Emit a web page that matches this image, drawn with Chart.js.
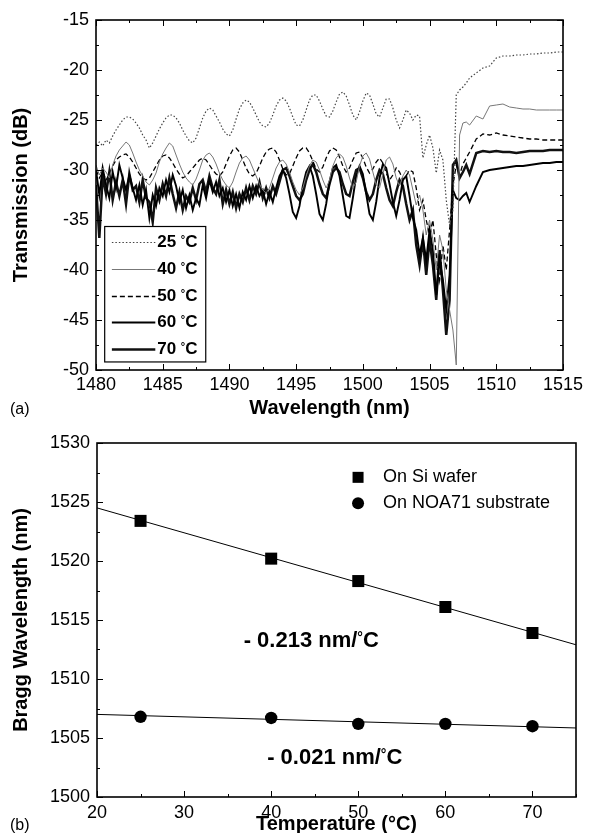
<!DOCTYPE html>
<html><head><meta charset="utf-8">
<script src="https://cdn.jsdelivr.net/npm/chart.js@4.4.1/dist/chart.umd.min.js"></script>
<style>
html,body{margin:0;padding:0;background:#fff;width:589px;height:833px;overflow:hidden;position:relative}
#ca{position:absolute;left:0;top:0}
#cb{position:absolute;left:0;top:420px}
.lab{position:absolute;font:16px "Liberation Sans",Arial,sans-serif;color:#000;line-height:18px}
</style></head><body>
<canvas id="ca" width="589" height="420"></canvas>
<canvas id="cb" width="589" height="420"></canvas>
<div class="lab" style="left:10px;top:400px">(a)</div>
<div class="lab" style="left:10px;top:816px">(b)</div>
<script>
const FAM = '"Liberation Sans", Arial, sans-serif';

// ---------- (a) transmission spectra ----------
const temps = [25, 40, 50, 60, 70];
const wavelength = [
1480,1480.25,1480.5,1480.75,1481,1481.25,1481.5,1481.75,1482,1482.25,1482.5,1482.75,
1483,1483.25,1483.5,1483.75,1484,1484.25,1484.5,1484.75,1485,1485.25,1485.5,1485.75,
1486,1486.25,1486.5,1486.75,1487,1487.25,1487.5,1487.75,1488,1488.25,1488.5,1488.75,
1489,1489.25,1489.5,1489.75,1490,1490.25,1490.5,1490.75,1491,1491.25,1491.5,1491.75,
1492,1492.25,1492.5,1492.75,1493,1493.25,1493.5,1493.75,1494,1494.25,1494.5,1494.75,
1495,1495.25,1495.5,1495.75,1496,1496.25,1496.5,1496.75,1497,1497.25,1497.5,1497.75,
1498,1498.25,1498.5,1498.75,1499,1499.25,1499.5,1499.75,1500,1500.25,1500.5,1500.75,
1501,1501.25,1501.5,1501.75,1502,1502.25,1502.5,1502.75,1503,1503.25,1503.5,1503.75,
1504,1504.25,1504.5,1504.75,1505,1505.25,1505.5,1505.75,1506,1506.25,1506.5,1506.75,
1507,1507.25,1507.5,1507.75,1508,
1508.5,1509,1509.5,1510,1510.5,1511,1511.5,1512,1512.5,1513,1513.5,1514,1514.5,1515];

const t25 = [
-27.5,-27.2,-27.6,-27.0, -27.3,-26.6,-26.0,-25.5, -25.0,-24.7,-24.7,-24.9,
-25.3,-25.8,-26.5,-27.0, -27.8,-27.3,-26.6,-25.9, -25.3,-24.8,-24.5,-24.5,
-24.8,-25.3,-26.0,-26.6, -27.1,-27.3,-26.8,-25.8, -24.8,-24.1,-23.8,-24.0,
-24.6,-25.2,-25.9,-26.4, -26.6,-26.0,-24.9,-23.9, -23.3,-23.0,-23.2,-23.8,
-24.5,-25.2,-25.6,-25.7, -25.3,-24.5,-23.6,-23.0, -22.8,-23.1,-23.8,-24.7,
-25.5,-25.6,-25.0,-24.0, -23.0,-22.5,-22.5,-23.1, -23.9,-24.6,-24.7,-24.1,
-23.2,-22.4,-22.2,-22.6, -23.5,-24.5,-25.0,-24.2, -23.1,-22.3,-22.5,-23.4,
-24.4,-24.7,-23.8,-22.9, -22.9,-23.8,-25.0,-25.8, -25.0,-24.0,-24.3,-25.0,
-24.5,-24.6,-28.8,-27.5, -26.5,-27.8,-30.3,-28.0, -29.0,-33.0,-35.5,-34.0,
-22.5,-22.0,-21.7,-21.3, -20.8,
-20.3,-19.8,-19.6,-18.8,-18.6,-18.6,-18.5,-18.5,-18.4,-18.4,-18.3,-18.3,-18.2,-18.2];

const t40 = [
-29.5,-30.5,-29.8,-30.2, -30.8,-29.5,-28.6,-28.0, -27.6,-27.2,-27.5,-28.3,
-29.2,-30.0,-30.6,-31.2, -31.5,-31.0,-30.3,-29.2, -28.4,-27.8,-27.3,-27.6,
-28.5,-29.4,-30.2,-30.8, -31.2,-31.5,-30.9,-30.0, -29.0,-28.5,-28.3,-28.7,
-29.4,-30.3,-31.0,-31.5, -31.8,-31.2,-30.2,-29.3, -28.8,-28.6,-29.0,-29.8,
-30.6,-31.4,-32.0,-32.3, -31.8,-30.8,-29.8,-29.2, -29.0,-29.4,-30.2,-31.2,
-32.0,-32.5,-31.8,-30.6, -29.6,-29.0,-29.2,-30.0, -31.0,-31.8,-31.0,-29.6,
-28.8,-28.4,-28.7,-29.6, -30.8,-31.8,-31.2,-29.6, -28.6,-28.3,-28.9,-30.2,
-31.5,-31.8,-30.4,-29.0, -28.7,-29.4,-30.8,-31.6, -30.6,-30.0,-30.5,-32.0,
-33.5,-32.5,-34.0,-36.5, -35.0,-37.0,-40.0,-36.5, -38.0,-42.0,-44.0,-46.0,
-49.5,-26.5,-25.3,-25.2, -25.5,
-24.6,-24.9,-23.6,-23.5,-23.4,-23.7,-23.8,-23.9,-23.9,-24.0,-24.0,-24.0,-24.0,-24.0];

const t50 = [
-30.0,-30.8,-30.2,-31.0, -30.4,-29.6,-29.0,-28.7, -28.5,-28.4,-28.7,-29.2,
-29.8,-30.4,-30.8,-31.0, -30.8,-30.2,-29.6,-29.0, -28.6,-28.5,-28.8,-29.3,
-29.9,-30.4,-30.8,-30.6, -30.2,-29.8,-29.4,-29.0, -28.8,-29.0,-29.5,-30.0,
-30.4,-30.6,-30.2,-29.4, -28.6,-28.0,-27.8,-28.2, -29.0,-29.8,-30.4,-30.6,
-30.3,-29.6,-28.8,-28.2, -27.9,-27.8,-28.2,-29.0, -29.9,-30.5,-30.4,-29.6,
-28.8,-28.1,-27.8,-27.8, -28.3,-29.1,-29.9,-30.2, -29.7,-28.8,-28.1,-27.8,
-28.0,-28.7,-29.6,-30.2, -29.8,-29.0,-28.3,-28.2, -28.8,-29.7,-30.3,-29.9,
-29.2,-28.8,-29.3,-30.3, -31.0,-30.5,-29.8,-30.2, -31.0,-30.6,-30.0,-30.2,
-31.8,-34.0,-33.0,-35.0, -36.5,-35.0,-38.5,-41.0, -37.5,-40.0,-36.0,-31.5,
-29.5,-30.5,-29.4,-28.8, -28.2,
-26.9,-26.4,-26.5,-26.3,-26.5,-26.6,-26.7,-26.8,-26.9,-26.9,-27.0,-27.0,-27.0,-27.0];

const t60 = [
-30.0,-32.5,-29.8,-31.5, -32.8,-30.2,-31.8,-29.5, -30.8,-32.0,-30.5,-31.8,
-33.0,-31.5,-33.5,-32.0, -34.8,-32.5,-33.6,-31.8, -32.6,-31.0,-32.2,-30.5,
-31.6,-33.2,-32.0,-33.8, -32.5,-34.0,-32.8,-33.5, -31.5,-32.8,-31.0,-32.2,
-31.2,-32.6,-31.8,-33.2, -32.0,-33.6,-32.4,-33.8, -32.2,-33.0,-31.6,-32.8,
-31.6,-32.6,-32.0,-33.4, -32.2,-33.2,-31.8,-30.6, -30.0,-30.8,-32.4,-34.2,
-34.8,-33.6,-31.6,-30.2, -29.6,-30.6,-32.4,-34.4, -35.0,-33.4,-31.2,-29.8,
-29.5,-30.6,-32.6,-34.6, -34.8,-32.8,-30.6,-29.6, -30.4,-32.4,-34.4,-35.0,
-33.2,-30.8,-29.4,-29.8, -31.4,-33.2,-34.6,-33.0, -31.0,-30.6,-32.6,-34.8,
-36.0,-38.5,-36.8,-39.0, -36.0,-38.0,-42.5,-39.0, -41.0,-44.0,-40.5,-32.0,
-32.8,-33.0,-32.6,-32.3, -33.2,
-31.6,-30.2,-30.0,-29.9,-29.8,-29.7,-29.6,-29.6,-29.5,-29.4,-29.3,-29.3,-29.2,-29.2];

const t70 = [
-31.5,-36.8,-30.6,-32.4, -30.2,-33.0,-31.2,-32.6, -31.0,-33.4,-30.4,-32.0,
-31.6,-33.2,-31.0,-32.8, -33.2,-35.2,-31.8,-33.0, -31.4,-32.6,-30.8,-32.4,
-33.8,-32.2,-34.0,-32.6, -33.2,-31.8,-33.0,-31.4, -31.0,-32.2,-30.6,-31.8,
-32.4,-31.0,-33.4,-32.0, -33.4,-32.2,-33.8,-32.4, -33.2,-31.8,-33.0,-31.6,
-32.4,-31.2,-32.8,-31.8, -32.8,-31.6,-32.4,-31.2, -30.0,-29.8,-30.6,-31.6,
-32.6,-33.0,-32.4,-31.0, -30.0,-29.4,-30.2,-31.4, -32.4,-32.8,-31.4,-30.2,
-29.8,-30.2,-31.4,-32.4, -32.6,-31.2,-30.0,-29.8, -30.8,-32.2,-33.0,-32.4,
-31.0,-30.0,-30.4,-31.8, -33.0,-33.6,-32.2,-31.0, -31.6,-33.4,-35.0,-34.0,
-37.5,-39.5,-37.0,-40.5, -37.0,-39.5,-43.0,-38.0, -42.0,-46.5,-43.0,-29.5,
-29.0,-30.8,-30.2,-29.5, -30.4,
-28.3,-28.1,-28.2,-28.1,-28.2,-28.2,-28.3,-28.2,-28.1,-28.1,-28.1,-28.0,-28.0,-28.0];

const xTicksA = [1480, 1485, 1490, 1495, 1500, 1505, 1510, 1515];
const yTicksA = [-50, -45, -40, -35, -30, -25, -20, -15];

// ---------- (b) Bragg wavelength vs temperature ----------
const tempB = [25, 40, 50, 60, 70];
const braggSi = [1523.4, 1520.2, 1518.3, 1516.1, 1513.9];
const braggNOA = [1506.8, 1506.7, 1506.2, 1506.2, 1506.0];
const fitT = [20, 75];
const fitSi = [1524.5, 1512.9];
const fitNOA = [1507.0, 1505.85];
const xTicksB = [20, 30, 40, 50, 60, 70];
const yTicksB = [1500, 1505, 1510, 1515, 1520, 1525, 1530];
const seriesNamesB = ['On Si wafer', 'On NOA71 substrate'];
const slopeTexts = ['- 0.213 nm/', '- 0.021 nm/'];

const zip = (xs, ys) => xs.map((x, i) => ({x, y: ys[i]}));
const plain = v => String(v);

function degText(ctx, pre, post, x, y, size, weight, align) {
  const big = `${weight} ${size}px ${FAM}`;
  const small = `${weight} ${Math.round(size * 0.62)}px ${FAM}`;
  ctx.font = big; const w1 = ctx.measureText(pre).width;
  ctx.font = small; const w2 = ctx.measureText('°').width;
  ctx.font = big; const w3 = ctx.measureText(post).width;
  const x0 = align === 'center' ? x - (w1 + w2 + w3) / 2 : x;
  ctx.textAlign = 'left'; ctx.textBaseline = 'middle'; ctx.fillStyle = '#000';
  ctx.font = big; ctx.fillText(pre, x0, y);
  ctx.font = small; ctx.fillText('°', x0 + w1, y - size * 0.12);
  ctx.font = big; ctx.fillText(post, x0 + w1 + w2, y);
}

function makeFrame(cfg) {
  return {
    id: 'frame' + cfg.key,
    afterDraw(chart) {
      const {ctx, chartArea: a} = chart;
      const xs = chart.scales.x, ys = chart.scales.y;
      ctx.save();
      ctx.strokeStyle = '#000';
      ctx.lineWidth = 1;
      ctx.beginPath();
      const tx = (v, len) => {
        const p = Math.round(xs.getPixelForValue(v)) + 0.5;
        ctx.moveTo(p, a.bottom); ctx.lineTo(p, a.bottom - len);
        if (cfg.top) { ctx.moveTo(p, a.top); ctx.lineTo(p, a.top + len); }
      };
      const ty = (v, len) => {
        const p = Math.round(ys.getPixelForValue(v)) + 0.5;
        ctx.moveTo(a.left, p); ctx.lineTo(a.left + len, p);
        if (cfg.right) { ctx.moveTo(a.right, p); ctx.lineTo(a.right - len, p); }
      };
      for (let v = xs.min; v <= xs.max + 1e-9; v += cfg.xMinor) tx(v, 3);
      for (let v = ys.min; v <= ys.max + 1e-9; v += cfg.yMinor) ty(v, 3);
      cfg.xMajor.forEach(v => tx(v, 6));
      cfg.yMajor.forEach(v => ty(v, 6));
      ctx.stroke();
      ctx.lineWidth = 1.6;
      ctx.strokeRect(a.left, a.top, a.right - a.left, a.bottom - a.top);
      ctx.restore();
    }
  };
}

const tickFont = {family: FAM, size: 18};
const titleFont = {family: FAM, size: 20, weight: 'bold'};

// styles for (a)
const stylesA = [
  {color: '#444', width: 1.2, dash: [1.5, 2]},
  {color: '#777', width: 1, dash: []},
  {color: '#000', width: 1.3, dash: [5, 3]},
  {color: '#000', width: 1.9, dash: []},
  {color: '#111', width: 2.5, dash: []}
];
const seriesA = [t25, t40, t50, t60, t70];

const legendA = {
  id: 'legendA',
  afterDraw(chart) {
    const {ctx, chartArea: a} = chart;
    const W = a.right - a.left, H = a.bottom - a.top;
    const bx0 = a.left + 0.0186 * W, bx1 = a.left + 0.235 * W;
    const by0 = a.top + 0.59 * H, by1 = a.top + 0.977 * H;
    ctx.save();
    ctx.fillStyle = '#fff';
    ctx.fillRect(bx0, by0, bx1 - bx0, by1 - by0);
    ctx.strokeStyle = '#000'; ctx.lineWidth = 1.2;
    ctx.strokeRect(bx0, by0, bx1 - bx0, by1 - by0);
    const rows = [0.633, 0.711, 0.788, 0.863, 0.941];
    temps.forEach((t, i) => {
      const y = Math.round(a.top + rows[i] * H) + 0.5;
      const st = stylesA[i];
      ctx.beginPath();
      ctx.strokeStyle = st.color; ctx.lineWidth = st.width; ctx.setLineDash(st.dash);
      ctx.moveTo(a.left + 0.034 * W, y); ctx.lineTo(a.left + 0.127 * W, y);
      ctx.stroke();
      ctx.setLineDash([]);
      degText(ctx, String(t) + ' ', 'C', a.left + 0.131 * W, y, 17, 'bold', 'left');
    });
    ctx.restore();
  }
};

new Chart(document.getElementById('ca'), {
  type: 'line',
  data: {
    datasets: seriesA.map((s, i) => ({
      label: temps[i] + ' °C',
      data: zip(wavelength, s),
      borderColor: stylesA[i].color,
      borderWidth: stylesA[i].width,
      borderDash: stylesA[i].dash,
      pointRadius: 0,
      tension: 0,
      fill: false
    }))
  },
  options: {
    responsive: false, animation: false, devicePixelRatio: 1,
    layout: {padding: {left: 0, right: 26, top: 20, bottom: 0}},
    plugins: {legend: {display: false}, tooltip: {enabled: false}},
    scales: {
      x: {
        type: 'linear', min: 1480, max: 1515,
        afterBuildTicks: s => { s.ticks = xTicksA.map(v => ({value: v})); },
        afterFit: s => { s.height = 50; },
        grid: {display: false, drawTicks: false}, border: {display: false},
        ticks: {font: tickFont, color: '#000', padding: 4, maxRotation: 0, autoSkip: false, callback: plain},
        title: {display: true, text: 'Wavelength (nm)', font: titleFont, color: '#000', padding: {top: 0, bottom: 0}}
      },
      y: {
        type: 'linear', min: -50, max: -15,
        afterBuildTicks: s => { s.ticks = yTicksA.map(v => ({value: v})); },
        afterFit: s => { s.width = 96; },
        grid: {display: false, drawTicks: false}, border: {display: false},
        ticks: {font: tickFont, color: '#000', padding: 7, autoSkip: false, callback: plain},
        title: {display: true, text: 'Transmission (dB)', font: titleFont, color: '#000', padding: {top: 9, bottom: 0}}
      }
    }
  },
  plugins: [makeFrame({key: 'A', top: true, right: true, xMinor: 2.5, yMinor: 2.5, xMajor: xTicksA, yMajor: yTicksA}), legendA]
});

// ---------- chart (b) ----------
const extrasB = {
  id: 'extrasB',
  afterDraw(chart) {
    const {ctx, chartArea: a} = chart;
    const xs = chart.scales.x, ys = chart.scales.y;
    const W = a.right - a.left, H = a.bottom - a.top;
    ctx.save();
    // legend
    const lx = a.left + 0.545 * W, tx = a.left + 0.597 * W;
    const r1 = a.top + 0.097 * H, r2 = a.top + 0.17 * H;
    ctx.fillStyle = '#000';
    ctx.fillRect(lx - 5.5, r1 - 5.5, 11, 11);
    ctx.beginPath(); ctx.arc(lx, r2, 6, 0, Math.PI * 2); ctx.fill();
    ctx.font = `18px ${FAM}`; ctx.textAlign = 'left'; ctx.textBaseline = 'middle';
    ctx.fillText(seriesNamesB[0], tx, r1);
    ctx.fillText(seriesNamesB[1], tx, r2);
    // slope annotations
    degText(ctx, slopeTexts[0], 'C', xs.getPixelForValue(44.6), ys.getPixelForValue(1513.2), 22, 'bold', 'center');
    degText(ctx, slopeTexts[1], 'C', xs.getPixelForValue(47.3), ys.getPixelForValue(1503.3), 22, 'bold', 'center');
    ctx.restore();
  }
};

new Chart(document.getElementById('cb'), {
  type: 'line',
  data: {
    datasets: [
      {data: zip(fitT, fitSi), borderColor: '#000', borderWidth: 1, pointRadius: 0, tension: 0},
      {data: zip(fitT, fitNOA), borderColor: '#000', borderWidth: 1, pointRadius: 0, tension: 0},
      {label: seriesNamesB[0], data: zip(tempB, braggSi), showLine: false, pointStyle: 'rect', pointRadius: 8.5, backgroundColor: '#000', borderColor: '#000', borderWidth: 0},
      {label: seriesNamesB[1], data: zip(tempB, braggNOA), showLine: false, pointStyle: 'circle', pointRadius: 6.2, backgroundColor: '#000', borderColor: '#000', borderWidth: 0}
    ]
  },
  options: {
    responsive: false, animation: false, devicePixelRatio: 1,
    layout: {padding: {left: 0, right: 13, top: 23, bottom: 0}},
    plugins: {legend: {display: false}, tooltip: {enabled: false}},
    scales: {
      x: {
        type: 'linear', min: 20, max: 75,
        afterBuildTicks: s => { s.ticks = xTicksB.map(v => ({value: v})); },
        afterFit: s => { s.height = 43; },
        grid: {display: false, drawTicks: false}, border: {display: false},
        ticks: {font: tickFont, color: '#000', padding: 5, maxRotation: 0, autoSkip: false, callback: plain},
        title: {display: true, text: 'Temperature (°C)', font: titleFont, color: '#000', padding: {top: 0, bottom: 4}}
      },
      y: {
        type: 'linear', min: 1500, max: 1530,
        afterBuildTicks: s => { s.ticks = yTicksB.map(v => ({value: v})); },
        afterFit: s => { s.width = 97; },
        grid: {display: false, drawTicks: false}, border: {display: false},
        ticks: {font: tickFont, color: '#000', padding: 7, autoSkip: false, callback: plain},
        title: {display: true, text: 'Bragg Wavelength (nm)', font: titleFont, color: '#000', padding: {top: 9, bottom: 0}}
      }
    }
  },
  plugins: [makeFrame({key: 'B', top: false, right: false, xMinor: 5, yMinor: 2.5, xMajor: xTicksB, yMajor: yTicksB}), extrasB]
});
</script>
</body></html>
